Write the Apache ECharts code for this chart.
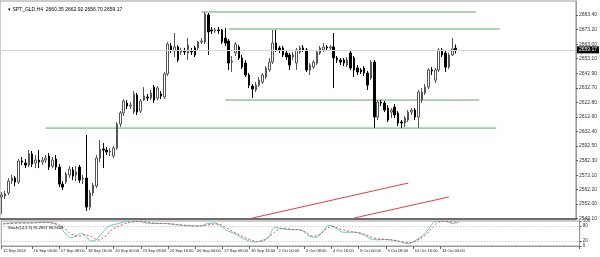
<!DOCTYPE html>
<html><head><meta charset="utf-8">
<script src="https://cdn.jsdelivr.net/npm/echarts@6/dist/echarts.min.js"></script>
<style>html,body{margin:0;padding:0;background:#fff}#c{width:600px;height:257px}</style>
</head><body><div id="c"></div>
<script>
// ---- data ----
const timeLabels = ['12 Sep 2024','16 Sep 00:00','17 Sep 08:00','18 Sep 16:00','20 Sep 00:00','23 Sep 08:00','24 Sep 16:00','26 Sep 00:00','27 Sep 08:00','30 Sep 16:00','2 Oct 00:00','3 Oct 08:00','4 Oct 16:00','8 Oct 00:00','9 Oct 08:00','10 Oct 16:00','14 Oct 00:00'];
const priceTicks = [2683.40,2673.20,2663.00,2653.10,2642.90,2632.70,2622.80,2612.60,2602.40,2592.50,2582.30,2572.10,2562.20,2552.00,2542.10];
const stochTicks = [100,80,20,0];
const openP = [2556.9,2557.6,2559.7,2568.0,2570.1,2567.3,2581.9,2580.5,2579.1,2586.8,2580.5,2582.6,2581.2,2582.6,2585.4,2578.4,2583.3,2577.7,2565.9,2567.3,2572.2,2575.7,2572.2,2577.7,2569.4,2570.1,2549.9,2559.7,2564.5,2584.0,
2590.2,2589.5,2588.2,2585.4,2590.9,2607.6,2615.3,2622.2,2620.1,2615.9,2627.8,2616.6,2624.3,2626.4,2625.7,2633.3,2625.7,2628.5,2626.4,2642.4,
2661.9,2658.4,2661.2,2657.7,2658.4,2657.0,2658.4,2660.5,2660.5,2664.6,2664.6,2683.4,2673.0,2672.3,2673.0,2673.0,2667.4,2665.3,2650.7,2657.0,
2661.2,2653.5,2650.0,2641.7,2634.0,2631.3,2634.7,2636.8,2640.3,2645.2,2650.7,2663.9,2660.5,2660.5,2657.0,2655.6,2654.2,2650.0,2657.7,2660.5,
2659.1,2645.2,2647.2,2650.0,2657.0,2659.1,2661.2,2660.5,2661.2,2653.5,2652.1,2652.1,2648.6,2657.0,2653.5,2646.5,2645.2,2646.5,2643.1,2639.6,
2650.7,2612.5,2622.9,2622.2,2618.7,2615.9,2619.4,2615.3,2609.0,2608.3,2610.4,2615.9,2617.3,2612.5,2624.3,2629.2,2633.3,2645.2,2638.2,2645.2,
2659.1,2657.0,2647.2,2655.6,2660.35];
const highP = [2560.4,2561.1,2570.1,2572.2,2571.5,2583.3,2584.7,2583.3,2589.5,2588.9,2586.1,2589.5,2584.7,2586.1,2587.5,2584.7,2586.1,2579.8,2568.0,2574.3,2578.4,2577.7,2578.4,2579.1,2572.2,2600.0,2561.8,2566.6,2586.1,2596.5,
2594.4,2591.6,2590.9,2592.3,2609.0,2616.6,2625.0,2624.3,2622.9,2630.6,2629.2,2625.0,2633.3,2628.5,2631.3,2634.7,2634.0,2630.6,2643.8,2664.6,
2663.9,2670.9,2662.5,2660.5,2660.5,2667.4,2660.5,2661.9,2665.3,2667.4,2685.5,2684.8,2675.1,2674.4,2675.1,2673.7,2674.4,2666.7,2654.9,2664.6,
2662.5,2655.6,2652.1,2643.1,2635.4,2636.8,2640.3,2643.1,2647.9,2653.5,2673.0,2673.0,2661.9,2661.9,2658.4,2657.0,2657.7,2660.5,2661.9,2662.5,
2660.5,2650.0,2652.1,2659.1,2661.9,2663.9,2662.5,2662.5,2670.9,2654.9,2653.5,2653.5,2654.2,2659.1,2654.9,2648.6,2646.5,2647.9,2644.5,2652.1,
2652.1,2624.3,2624.3,2623.6,2620.8,2618.7,2621.5,2616.6,2610.4,2613.2,2617.3,2618.7,2618.7,2631.3,2632.6,2635.4,2646.5,2647.2,2646.5,2660.5,
2660.5,2658.4,2657.0,2667.4,2662.92];
const lowP = [2545.0,2555.5,2558.3,2565.9,2564.5,2565.9,2579.1,2577.0,2577.7,2577.7,2577.0,2577.0,2579.1,2580.5,2575.7,2577.0,2575.7,2563.8,2561.8,2565.9,2570.1,2568.7,2568.0,2566.6,2565.9,2547.2,2547.8,2557.6,2563.1,2581.2,
2577.0,2586.1,2585.4,2584.0,2589.5,2605.5,2613.2,2618.0,2618.0,2614.6,2613.9,2615.3,2623.6,2623.6,2624.3,2622.2,2624.3,2625.0,2625.0,2641.0,
2657.0,2654.2,2650.7,2655.6,2655.6,2652.1,2655.6,2654.2,2659.1,2663.2,2663.2,2655.6,2670.2,2670.9,2670.2,2663.2,2661.9,2645.2,2643.8,2654.9,
2652.1,2645.8,2640.3,2632.6,2625.7,2629.9,2633.3,2635.4,2638.9,2643.8,2649.3,2657.7,2657.0,2654.2,2652.1,2645.2,2652.1,2645.2,2656.3,2657.7,
2643.8,2641.7,2645.8,2648.6,2655.6,2657.7,2659.1,2659.1,2632.6,2650.0,2648.6,2647.9,2647.2,2645.2,2640.3,2641.7,2642.4,2641.0,2631.3,2638.2,
2604.8,2610.4,2620.1,2615.9,2609.0,2611.8,2611.8,2606.2,2604.8,2605.5,2609.0,2613.9,2610.4,2604.8,2622.2,2627.8,2631.9,2641.7,2636.1,2643.8,
2654.2,2643.8,2645.8,2654.9,2656.70];
const closeP = [2558.3,2559.0,2568.0,2570.1,2567.3,2581.9,2581.2,2579.1,2586.8,2579.8,2582.6,2581.2,2582.6,2584.0,2577.7,2582.6,2577.7,2565.9,2563.8,2572.9,2576.3,2571.5,2574.3,2568.7,2570.1,2549.9,2559.7,2565.2,2584.0,2590.2,
2589.5,2588.2,2588.9,2590.9,2607.6,2615.3,2623.6,2620.1,2620.8,2628.5,2615.9,2623.6,2627.1,2625.7,2629.2,2624.3,2632.6,2627.1,2642.4,2663.2,
2659.1,2661.2,2652.1,2658.4,2657.7,2662.5,2657.7,2655.6,2664.6,2665.3,2684.1,2671.6,2672.3,2673.0,2672.3,2664.6,2663.9,2650.0,2651.4,2663.2,
2653.5,2647.2,2641.7,2634.7,2631.9,2634.7,2638.2,2641.7,2646.5,2650.7,2663.9,2659.1,2659.1,2655.6,2654.2,2648.6,2655.6,2659.1,2660.5,2659.1,
2645.2,2648.6,2650.7,2657.7,2660.5,2661.2,2660.5,2661.2,2653.5,2652.1,2650.7,2650.0,2652.1,2646.5,2645.2,2643.8,2643.8,2643.1,2634.7,2650.7,
2612.5,2622.9,2622.2,2617.3,2610.4,2617.3,2613.9,2608.3,2608.3,2611.8,2615.9,2617.3,2612.5,2629.9,2629.9,2633.3,2645.2,2644.5,2645.2,2659.1,
2655.6,2647.2,2655.6,2659.8,2659.17];
const lastPrice = 2659.17;
// levels: [price, fromBar, toBar]
const greenLevels = [[2685.5,59,140],[2673.7,67,147],[2624.3,66,141],[2604.8,13,146]];
// trend lines: [fromBar, fromPrice, toBar, toPrice]
const redLines = [[74,2542.3,120,2566.6],[104,2542.3,132,2556.9]];
// stochastic read points [bar, value]
const stochK = [[0,90],[4,93],[8,92],[12,95],[15,90],[17,70],[19,40],[20,33],[22,45],[23,51],[24,45],[26,20],[27,22],[29,50],[31,78],[34,90],[37,99],[40,99],[42,92],[45,90],[48,90],[50,86],[53,82],[56,80],[58,80],[60,89],[62,92],[64,80],[66,61],[68,50],[70,35],[72,22],[74,16],[76,22],[78,35],[80,74],[82,70],[84,65],[86,66],[88,62],[90,40],[92,35],[94,60],[96,83],[98,70],[100,55],[103,55],[106,45],[108,29],[110,25],[112,26],[116,20],[119,10],[121,20],[124,50],[126,85],[127,99],[129,99],[131,95],[132,90],[134,95]];
const stochD = [[0,88],[5,92],[9,93],[13,94],[16,88],[18,70],[20,48],[22,38],[24,45],[26,38],[28,24],[30,38],[32,65],[35,85],[38,96],[41,98],[44,92],[47,90],[50,88],[53,84],[57,80],[60,84],[63,88],[65,78],[67,62],[69,48],[71,35],[73,24],[75,18],[77,24],[79,45],[81,66],[83,70],[85,66],[87,64],[89,55],[91,40],[93,45],[95,68],[97,78],[99,68],[102,58],[105,52],[107,42],[109,32],[112,27],[115,23],[118,15],[120,14],[122,25],[124,42],[126,70],[128,95],[130,99],[132,96],[134,97]];
const titleText = 'SPT_GLD,H4  2660.35 2662.92 2656.70 2659.17';
const stochText = 'Stoch(14,3,3) 95.2857 96.9428';

// ---- categories: H4 trading bars from 12 Sep 2024 12:00, weekends skipped ----
const MON = ['Jan','Feb','Mar','Apr','May','Jun','Jul','Aug','Sep','Oct','Nov','Dec'];
const TOTAL = 170;
const cats = [];
let t = Date.UTC(2024, 8, 12, 12);
while (cats.length < TOTAL) {
  const d = new Date(t);
  const wd = d.getUTCDay();
  if (wd !== 0 && wd !== 6) {
    cats.push(d.getUTCDate() + ' ' + MON[d.getUTCMonth()] + ' ' + String(d.getUTCHours()).padStart(2,'0') + ':00');
  }
  t += 4 * 3600 * 1000;
}
const labelSet = new Set(timeLabels);
const showLabel = (i, v) => i === 0 || labelSet.has(v);

const candles = openP.map((o, i) => [o, closeP[i], lowP[i], highP[i]]);
const pMin = 2541.62, pMax = 2693.13;

const FONT = 'Liberation Sans';
const GREEN = '#5fa85f';
const segSeries = (pts, color) => ({
  type: 'line', xAxisIndex: 0, yAxisIndex: 0, data: pts, symbol: 'none', silent: true,
  lineStyle: {color: color, width: 1, type: 'solid'}, z: 3, emphasis: {disabled: true}
});

const chart = echarts.init(document.getElementById('c'), null, {renderer: 'canvas'});
chart.setOption({
  animation: false,
  backgroundColor: '#ffffff',
  title: [
    {text: '\u25BE ' + titleText, left: 3, top: 2, textStyle: {fontSize: 5, fontWeight: 'normal', color: '#000', fontFamily: FONT}},
    {text: stochText, left: 3, top: 221, textStyle: {fontSize: 4, fontWeight: 'normal', color: '#000', fontFamily: FONT}}
  ],
  grid: [
    {left: 0, top: 1, width: 579.7, height: 218, show: true, borderColor: '#9a9a9a', borderWidth: 1},
    {left: 0, top: 221, width: 579.7, height: 25, show: true, borderColor: '#9a9a9a', borderWidth: 1}
  ],
  xAxis: [
    {type: 'category', gridIndex: 0, data: cats, boundaryGap: true,
     axisLine: {show: true, lineStyle: {color: '#6e6e6e', width: 2}}, axisTick: {show: false}, axisLabel: {show: false}, splitLine: {show: false}},
    {type: 'category', gridIndex: 1, data: cats, boundaryGap: true,
     axisLine: {show: true, lineStyle: {color: '#9a9a9a', width: 1}},
     axisTick: {show: true, interval: showLabel, length: 3, lineStyle: {color: '#666'}},
     axisLabel: {show: true, interval: showLabel, align: 'left', margin: 3, fontSize: 4, color: '#222', fontFamily: FONT, hideOverlap: false,
       formatter: (v, i) => i === 0 ? timeLabels[0] : v},
     splitLine: {show: false}}
  ],
  yAxis: [
    {type: 'value', gridIndex: 0, position: 'right', min: pMin, max: pMax, scale: true,
     axisLine: {show: true, lineStyle: {color: '#9a9a9a'}},
     axisTick: {show: true, customValues: priceTicks, length: 2, lineStyle: {color: '#555'}},
     axisLabel: {show: true, customValues: priceTicks, formatter: v => v.toFixed(2), fontSize: 5, color: '#333', margin: 3, fontFamily: FONT},
     splitLine: {show: false}},
    {type: 'value', gridIndex: 1, position: 'right', min: 0, max: 100,
     axisLine: {show: true, lineStyle: {color: '#9a9a9a'}},
     axisTick: {show: true, customValues: stochTicks, length: 2, lineStyle: {color: '#555'}},
     axisLabel: {show: true, customValues: stochTicks, fontSize: 4.5, color: '#333', margin: 3, fontFamily: FONT},
     splitLine: {show: false}}
  ],
  series: [
    {type: 'line', xAxisIndex: 0, yAxisIndex: 0, data: [], silent: true, z: 1,
     markLine: {silent: true, symbol: 'none', animation: false,
       lineStyle: {color: '#d4d4d4', width: 1, type: 'solid'},
       data: [{yAxis: lastPrice,
          label: {show: true, position: 'end', distance: 1, formatter: lastPrice.toFixed(2), backgroundColor: '#000', color: '#fff', fontSize: 5, padding: [1, 2], fontFamily: FONT}}]}},
    ...greenLevels.map(g => segSeries([[g[1], g[0]], [g[2], g[0]]], GREEN)),
    ...redLines.map(r => segSeries([[r[0], r[1]], [r[2], r[3]]], '#e04040')),
    {type: 'candlestick', xAxisIndex: 0, yAxisIndex: 0, data: candles, barWidth: 2, z: 4,
     itemStyle: {color: '#ffffff', color0: '#000000', borderColor: '#555555', borderColor0: '#000000', borderWidth: 1}},
    {type: 'line', xAxisIndex: 1, yAxisIndex: 1, data: stochK, symbol: 'none', smooth: 0.4,
     lineStyle: {color: '#5ec8c8', width: 1},
     markLine: {silent: true, symbol: 'none', label: {show: false}, lineStyle: {color: '#b8b8b8', type: [1, 2], width: 1},
       data: [{yAxis: 80}, {yAxis: 20}]}},
    {type: 'line', xAxisIndex: 1, yAxisIndex: 1, data: stochD, symbol: 'none', smooth: 0.4,
     lineStyle: {color: '#e05050', width: 1, type: [2, 2]}}
  ]
});
</script></body></html>
